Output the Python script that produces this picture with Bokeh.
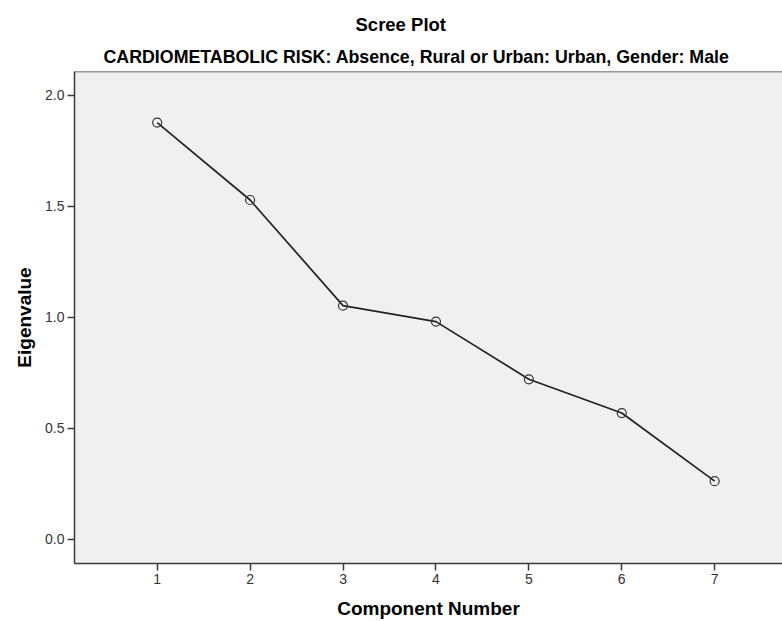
from bokeh.plotting import figure
from bokeh.models import Range1d, FixedTicker, NumeralTickFormatter, Title, Span
from bokeh.embed import file_html
from bokeh.resources import INLINE

components = [1, 2, 3, 4, 5, 6, 7]
eigenvalues = [1.877, 1.528, 1.052, 0.980, 0.720, 0.568, 0.261]
x_ticks = [1, 2, 3, 4, 5, 6, 7]
y_ticks = [0.0, 0.5, 1.0, 1.5, 2.0]

title_text = "Scree Plot"
subtitle_text = "CARDIOMETABOLIC RISK: Absence, Rural or Urban: Urban, Gender: Male"

FONT = "Liberation Sans"

p = figure(width=782, height=621, output_backend="svg", toolbar_location=None,
           x_range=Range1d(0.11, 7.73), y_range=Range1d(-0.11, 2.107),
           min_border_left=74, min_border_right=0, min_border_top=71, min_border_bottom=58)

p.title.text = title_text
p.title.text_font = FONT
p.title.text_font_size = "18.5px"
p.title.text_font_style = "bold"
p.title.align = "left"
p.title.offset = 281
p.title.text_color = "#000000"
p.add_layout(Title(text=subtitle_text, text_font=FONT, text_font_size="17.8px",
                   text_font_style="bold", align="left", offset=29,
                   text_color="#000000"), "above")

p.background_fill_color = "#F0F0F0"
p.border_fill_color = "#FFFFFF"
p.outline_line_color = None
p.grid.visible = False

p.add_layout(Span(location=2.107, dimension="width", line_color="#3a3a3a", line_width=1.5))

for ax in (p.xaxis[0], p.yaxis[0]):
    ax.axis_line_color = "#3a3a3a"
    ax.axis_line_width = 1.5
    ax.major_tick_line_color = "#3a3a3a"
    ax.major_tick_line_width = 1.5
    ax.major_tick_out = 7
    ax.major_tick_in = 0
    ax.minor_tick_line_color = None
    ax.major_label_text_font = FONT
    ax.major_label_text_font_size = "14px"
    ax.major_label_text_color = "#333333"
    ax.axis_label_text_font = FONT
    ax.axis_label_text_font_size = "19px"
    ax.axis_label_text_font_style = "bold"
    ax.axis_label_text_color = "#000000"
    ax.major_label_standoff = 3

p.xaxis.ticker = FixedTicker(ticks=x_ticks)
p.yaxis.ticker = FixedTicker(ticks=y_ticks)
p.yaxis.formatter = NumeralTickFormatter(format="0.0")
p.xaxis.axis_label = "Component Number"
p.yaxis.axis_label = "Eigenvalue"
p.xaxis.axis_label_standoff = 11
p.yaxis.axis_label_standoff = 7

p.line(components, eigenvalues, line_color="#222222", line_width=1.7)
p.scatter(components, eigenvalues, marker="circle", size=9, fill_color=None,
          line_color="#333333", line_width=1.2)

open("out.html", "w").write(file_html(p, INLINE))
